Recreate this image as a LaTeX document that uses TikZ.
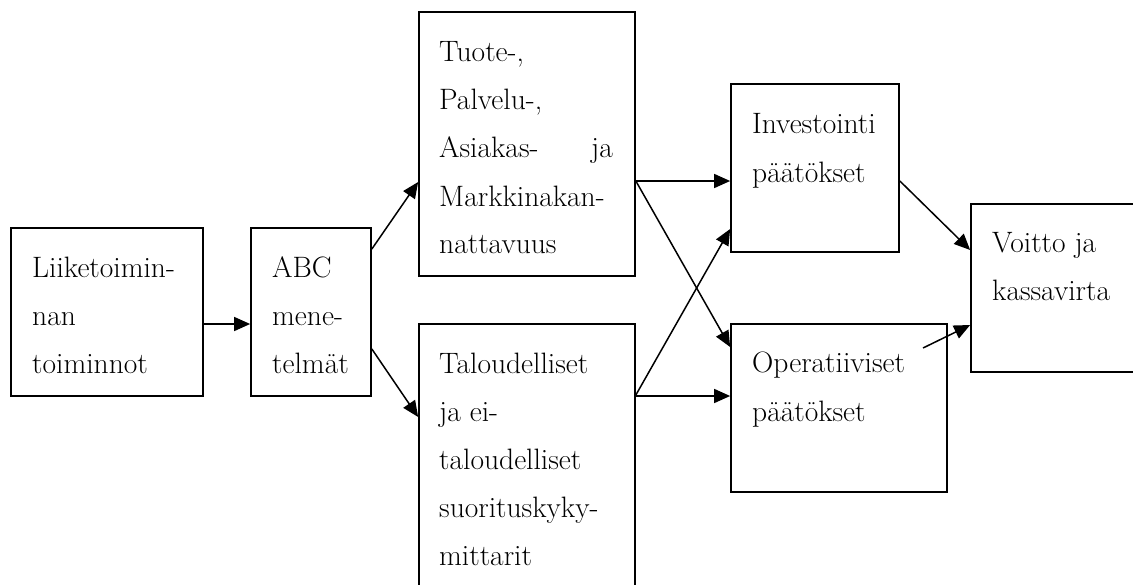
\documentclass[tikz,border=0pt]{standalone}
\usetikzlibrary{arrows.meta}
\begin{document}
\begin{tikzpicture}[x=1pt,y=-1pt,
  box/.style={draw=black,line width=1.7pt,fill=none,inner sep=0pt},
  lbl/.style={inner sep=0pt,anchor=base west,font=\fontsize{29.5}{34}\selectfont},
  lble/.style={inner sep=0pt,anchor=base east,font=\fontsize{29.5}{34}\selectfont},
  arr/.style={line width=1.5pt,-{Triangle[length=16pt,width=14pt]}}]
\clip (0,0) rectangle (1133,584);
\fill[white] (0,0) rectangle (1133,584);
% boxes
\node[box,minimum width=192pt,minimum height=168pt] (A) at (107,312) {};
\node[box,minimum width=120pt,minimum height=168pt] (B) at (311,312) {};
\node[box,minimum width=216pt,minimum height=264pt] (C) at (527,144) {};
\node[box,minimum width=216pt,minimum height=300pt] (D) at (527,474) {};
\node[box,minimum width=168pt,minimum height=168pt] (E) at (815,168) {};
\node[box,minimum width=216pt,minimum height=168pt] (F) at (839,408) {};
\node[box,minimum width=200pt,minimum height=168pt] (G) at (1071,288) {};
% texts
\node[lbl] (a1) at (32,277) {Liiketoimin-};
\node[lbl] (a2) at (32,325) {nan};
\node[lbl] (a3) at (32,373) {toiminnot};
\node[lbl] (b1) at (272,277) {ABC};
\node[lbl] (b2) at (272,325) {mene-};
\node[lbl] (b3) at (272,373) {telmät};
\node[lbl] (c1) at (439,61) {Tuote-,};
\node[lbl] (c2) at (439,109) {Palvelu-,};
\node[lbl] (c3) at (439,157) {Asiakas-};
\node[lble] (c3b) at (613,157) {ja};
\node[lbl] (c4) at (439,206) {Markkinakan-};
\node[lbl] (c5) at (439,253) {nattavuus};
\node[lbl] (d1) at (439,373) {Taloudelliset};
\node[lbl] (d2) at (439,421) {ja ei-};
\node[lbl] (d3) at (439,469) {taloudelliset};
\node[lbl] (d4) at (439,517) {suorituskyky-};
\node[lbl] (d5) at (439,565) {mittarit};
\node[lbl] (e1) at (752,133) {Investointi};
\node[lbl] (e2) at (752,182) {päätökset};
\node[lbl] (f1) at (752,372) {Operatiiviset};
\node[lbl] (f2) at (752,421) {päätökset};
\node[lbl] (g1) at (992,252) {Voitto ja};
\node[lbl] (g2) at (992,300) {kassavirta};
% connectors
\coordinate (fstart) at (923,348);
\draw[arr] (A.east |- 0,324) -- (B.west |- 0,324);
\draw[arr] (B.east |- 0,249) -- (C.west |- 0,182);
\draw[arr] (B.east |- 0,349) -- (D.west |- 0,417);
\draw[arr] (C.east |- 0,181) -- (E.west |- 0,181);
\draw[arr] (C.east |- 0,181) -- (F.west |- 0,347);
\draw[arr] (D.east |- 0,395) -- (E.west |- 0,229);
\draw[arr] (D.east |- 0,396) -- (F.west |- 0,396);
\draw[arr] (E.east |- 0,181) -- (G.west |- 0,250);
\draw[arr] (fstart) -- (G.west |- 0,325);
\end{tikzpicture}
\end{document}
